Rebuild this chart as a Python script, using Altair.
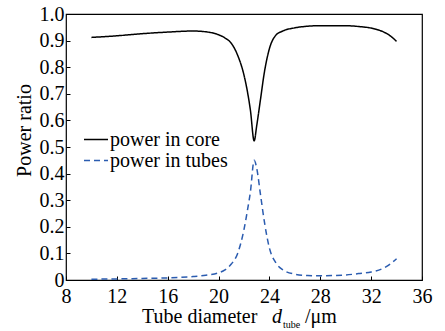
import altair as alt
import pandas as pd

x_vals = [10, 12, 14, 16, 18, 19, 20, 20.5, 21, 21.5, 22, 22.3, 22.5, 22.8, 23, 23.3, 23.6, 24, 24.5, 25, 26, 27, 28, 30, 31, 32, 33, 33.5, 34]
core = [0.912, 0.918, 0.926, 0.932, 0.936, 0.933, 0.922, 0.91, 0.89, 0.845, 0.77, 0.70, 0.64, 0.523, 0.58, 0.68, 0.78, 0.87, 0.92, 0.935, 0.948, 0.954, 0.956, 0.956, 0.953, 0.947, 0.932, 0.918, 0.897]
tubes = [0.003, 0.004, 0.006, 0.008, 0.013, 0.018, 0.027, 0.038, 0.06, 0.1, 0.19, 0.27, 0.33, 0.45, 0.42, 0.32, 0.22, 0.12, 0.065, 0.04, 0.022, 0.017, 0.016, 0.019, 0.024, 0.03, 0.045, 0.06, 0.08]
series = ["power in core", "power in tubes"]
x_ticks = [8, 12, 16, 20, 24, 28, 32, 36]
y_ticks = [0, 0.1, 0.2, 0.3, 0.4, 0.5, 0.6, 0.7, 0.8, 0.9, 1.0]

rows = []
for xv, c, t in zip(x_vals, core, tubes):
    rows.append({"x": xv, "y": c, "s": series[0]})
    rows.append({"x": xv, "y": t, "s": series[1]})
df = pd.DataFrame(rows)

FONT = "Liberation Serif"
FS = 20
W, H = 356, 266

leg = alt.Legend(title=None, orient="none", legendX=17, legendY=118,
                 symbolType="stroke", symbolSize=576, symbolStrokeWidth=1.5,
                 labelFont=FONT, labelFontSize=FS, labelColor="black",
                 labelOffset=1, rowPadding=0, clipHeight=15)

lines = alt.Chart(df).mark_line(interpolate="monotone", strokeWidth=1.5).encode(
    x=alt.X("x:Q", scale=alt.Scale(domain=[8, 36], nice=False, zero=False),
            axis=alt.Axis(values=x_ticks, title=None, grid=False, domain=False,
                          offset=-4, tickSize=4, tickColor="black", tickWidth=1,
                          labelPadding=6, labelFont=FONT, labelFontSize=FS,
                          labelColor="black", labelFlush=False)),
    y=alt.Y("y:Q", scale=alt.Scale(domain=[0, 1], nice=False),
            axis=alt.Axis(values=y_ticks, title="Power ratio", grid=False, domain=False,
                          offset=-4, tickSize=4, tickColor="black", tickWidth=1,
                          labelPadding=2, labelFont=FONT, labelFontSize=FS,
                          labelColor="black", labelFlush=False,
                          labelExpr="datum.value == 0 ? '0' : format(datum.value, '.1f')",
                          titleFont=FONT, titleFontSize=FS, titleFontWeight="normal",
                          titleColor="black", titleAngle=-90, titleX=-46, titleY=116,
                          titleAlign="center", titleBaseline="middle")),
    color=alt.Color("s:N", scale=alt.Scale(domain=series, range=["black", "#2b5cb0"]),
                    legend=leg),
    strokeDash=alt.StrokeDash("s:N", scale=alt.Scale(domain=series, range=[[1, 0], [6, 4]]),
                              legend=leg),
)

base_t = alt.Chart(pd.DataFrame({"a": [0]}))
t1 = base_t.mark_text(font=FONT, fontSize=FS, align="left", baseline="alphabetic", color="black").encode(
    x=alt.value(76), y=alt.value(309), text=alt.value("Tube diameter"))
t2 = base_t.mark_text(font=FONT, fontSize=FS, fontStyle="italic", align="left", baseline="alphabetic", color="black").encode(
    x=alt.value(206), y=alt.value(309), text=alt.value("d"))
t3 = base_t.mark_text(font=FONT, fontSize=10, align="left", baseline="alphabetic", color="black").encode(
    x=alt.value(217), y=alt.value(314), text=alt.value("tube"))
t4 = base_t.mark_text(font=FONT, fontSize=FS, align="left", baseline="alphabetic", color="black").encode(
    x=alt.value(239), y=alt.value(309), text=alt.value("/μm"))

chart = alt.layer(lines, t1, t2, t3, t4).properties(
    width=W, height=H,
    autosize=alt.AutoSizeParams(type="none"),
    padding={"left": 66, "top": 14, "right": 23, "bottom": 51},
    background="white",
).configure(font=FONT).configure_view(stroke="black", strokeWidth=1.2)

chart.save("out.html", embed_options={"renderer": "svg", "actions": False})
